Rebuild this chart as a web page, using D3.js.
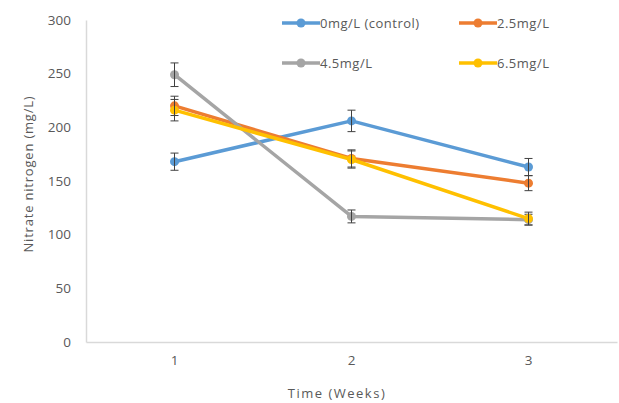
<!DOCTYPE html>
<html>
<head>
<style>
  html, body { margin: 0; padding: 0; background: #fff; }
  svg { display: block; font-family: "Open Sans", sans-serif; }
</style>
</head>
<body>
<svg width="619" height="403"></svg>
<script src="https://cdnjs.cloudflare.com/ajax/libs/d3/7.8.5/d3.min.js"></script>
<script>
  const weeks = ["1", "2", "3"];
  const seriesNames = ["0mg/L (control)", "2.5mg/L", "4.5mg/L", "6.5mg/L"];
  const seriesColors = ["#5B9BD5", "#ED7D31", "#A5A5A5", "#FFC000"];
  const control = [168, 206, 163];
  const dose25 = [220, 171, 148];
  const dose45 = [249, 117, 114];
  const dose65 = [216, 170, 115];
  const errControl = [8, 10, 8];
  const err25 = [9, 8, 7];
  const err45 = [11, 6, 5];
  const err65 = [10, 8, 6];
  const yTicks = [0, 50, 100, 150, 200, 250, 300];

  const values = [control, dose25, dose45, dose65];
  const errors = [errControl, err25, err45, err65];

  const svg = d3.select("svg");
  const margin = {top: 20, left: 86, right: 2, bottom: 61};
  const width = 619, height = 403;

  const x = d3.scaleBand()
    .domain(weeks)
    .range([margin.left, width - margin.right]);
  const y = d3.scaleLinear()
    .domain([0, 300])
    .range([height - margin.bottom, margin.top]);

  // y axis
  const yAxis = svg.append("g")
    .attr("transform", "translate(" + [margin.left, 0] + ")")
    .call(d3.axisLeft(y).tickValues(yTicks).tickSize(0).tickPadding(15));
  yAxis.select(".domain").attr("stroke", "#d9d9d9").attr("stroke-width", 1.5);
  yAxis.selectAll("text").attr("fill", "#595959").style("font-size", "13.5px")
    .style("font-family", "Open Sans, sans-serif");

  // x axis
  const xAxis = svg.append("g")
    .attr("transform", "translate(" + [0, height - margin.bottom] + ")")
    .call(d3.axisBottom(x).tickSize(0).tickPadding(13));
  xAxis.select(".domain").attr("stroke", "#d9d9d9").attr("stroke-width", 1.5);
  xAxis.selectAll("text").attr("fill", "#595959").style("font-size", "13.5px")
    .style("font-family", "Open Sans, sans-serif");

  // titles
  svg.append("text")
    .attr("x", 337)
    .attr("y", 398)
    .attr("text-anchor", "middle")
    .attr("fill", "#595959")
    .style("font-size", "13px")
    .style("letter-spacing", "1.5px")
    .text("Time (Weeks)");
  svg.append("text")
    .attr("transform", "translate(33,174) rotate(-90)")
    .attr("text-anchor", "middle")
    .attr("fill", "#595959")
    .style("font-size", "13px")
    .style("letter-spacing", "0.8px")
    .text("Nitrate nitrogen (mg/L)");

  const cx = d => x(d) + x.bandwidth() / 2;
  const line = d3.line()
    .x((d, i) => cx(weeks[i]))
    .y(d => y(d));

  values.forEach((vals, s) => {
    const g = svg.append("g");
    g.append("path")
      .datum(vals)
      .attr("d", line)
      .attr("fill", "none")
      .attr("stroke", seriesColors[s])
      .attr("stroke-width", 3.5)
      .attr("stroke-linejoin", "round");
    g.selectAll("circle")
      .data(vals)
      .enter().append("circle")
      .attr("cx", (d, i) => cx(weeks[i]))
      .attr("cy", d => y(d))
      .attr("r", 4.5)
      .attr("fill", seriesColors[s]);
    const eb = g.selectAll("g.err")
      .data(vals)
      .enter().append("g")
      .attr("class", "err")
      .attr("stroke", "#404040")
      .attr("stroke-width", 1);
    eb.append("line")
      .attr("x1", (d, i) => cx(weeks[i]))
      .attr("x2", (d, i) => cx(weeks[i]))
      .attr("y1", (d, i) => y(d + errors[s][i]))
      .attr("y2", (d, i) => y(d - errors[s][i]));
    [1, -1].forEach(sign => {
      eb.append("line")
        .attr("x1", (d, i) => cx(weeks[i]) - 4)
        .attr("x2", (d, i) => cx(weeks[i]) + 4)
        .attr("y1", (d, i) => y(d + sign * errors[s][i]))
        .attr("y2", (d, i) => y(d + sign * errors[s][i]));
    });
  });

  // legend
  const legendPos = [[282, 23], [459, 23], [282, 63], [459, 63]];
  seriesNames.forEach((name, s) => {
    const [lx, ly] = legendPos[s];
    const g = svg.append("g").attr("transform", "translate(" + [lx, ly] + ")");
    g.append("line")
      .attr("x1", 0).attr("x2", 38)
      .attr("y1", 0).attr("y2", 0)
      .attr("stroke", seriesColors[s])
      .attr("stroke-width", 3.5);
    g.append("circle")
      .attr("cx", 19).attr("cy", 0).attr("r", 4.5)
      .attr("fill", seriesColors[s]);
    g.append("text")
      .attr("x", 38).attr("y", 0)
      .attr("dy", "0.35em")
      .attr("fill", "#595959")
      .style("font-size", "13px")
      .style("letter-spacing", "0.5px")
      .text(name);
  });
</script>
</body>
</html>
